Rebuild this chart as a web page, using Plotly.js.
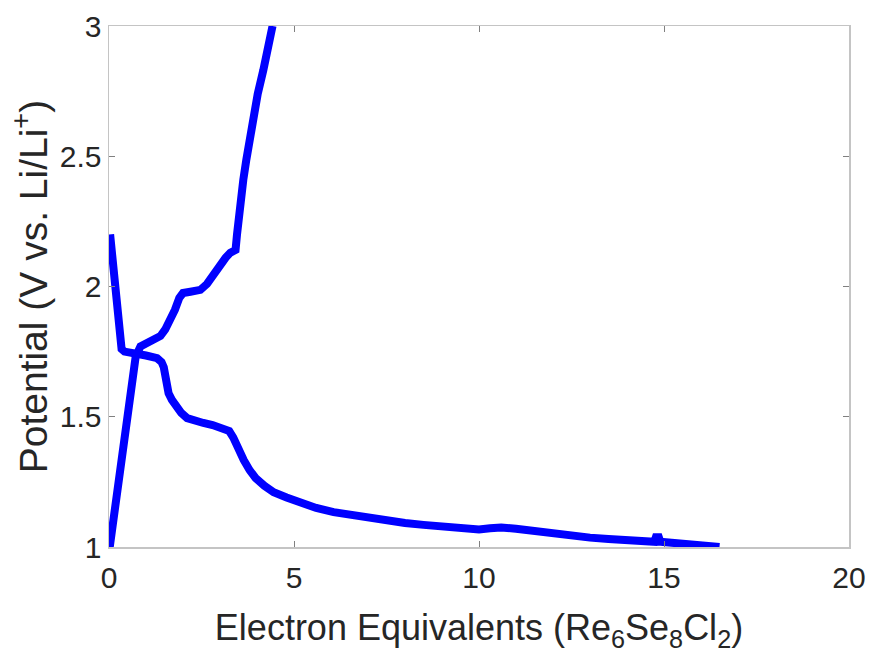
<!DOCTYPE html>
<html>
<head>
<meta charset="utf-8">
<script src="https://cdn.plot.ly/plotly-3.0.1.min.js"></script>
<style>html,body{margin:0;padding:0;background:#fff;}#chart{width:873px;height:666px;}</style>
</head>
<body>
<div id="chart"></div>
<script>
// Discharge (lithiation) curve
const dischargeX = [0.03,0.09,0.18,0.27,0.34,0.42,0.7,1.0,1.3,1.42,1.48,1.53,1.61,1.7,1.8,1.95,2.11,2.3,2.55,2.8,3.1,3.25,3.36,3.45,3.55,3.64,3.8,3.96,4.2,4.45,4.8,5.17,5.6,6.07,6.5,6.97,7.5,8.0,8.5,9.0,9.5,10.0,10.3,10.6,11.0,11.5,12.0,12.5,13.0,13.5,14.0,14.5,14.74,14.78,14.86,14.9,15.2,15.7,16.1,16.5];
const dischargeY = [2.20,2.10,2.00,1.87,1.76,1.75,1.745,1.735,1.725,1.71,1.69,1.64,1.59,1.565,1.54,1.515,1.495,1.485,1.476,1.468,1.457,1.445,1.42,1.39,1.36,1.334,1.295,1.265,1.235,1.21,1.19,1.169,1.15,1.134,1.123,1.113,1.10,1.092,1.085,1.077,1.07,1.067,1.072,1.075,1.07,1.06,1.05,1.042,1.036,1.031,1.027,1.023,1.02,1.037,1.037,1.02,1.017,1.012,1.007,1.0];
// Charge (delithiation) curve
const chargeX = [0.02,0.15,0.29,0.45,0.6,0.72,0.85,1.1,1.39,1.52,1.66,1.78,1.9,2.0,2.2,2.47,2.65,2.8,3.01,3.15,3.28,3.42,3.46,3.5,3.55,3.63,3.71,3.87,4.02,4.17,4.3,4.42];
const chargeY = [1.00,1.14,1.296,1.45,1.61,1.73,1.77,1.79,1.81,1.835,1.87,1.91,1.956,1.975,1.98,1.987,2.01,2.04,2.09,2.11,2.13,2.14,2.2,2.26,2.32,2.41,2.485,2.64,2.74,2.83,2.915,3.0];

const xTicks = [0,5,10,15,20];
const yTicks = [1,1.5,2,2.5,3];

const lineStyle = {color:'#0000ff', width:8};
const traces = [
  {x:dischargeX, y:dischargeY, mode:'lines', line:lineStyle, hoverinfo:'skip'},
  {x:chargeX, y:chargeY, mode:'lines', line:lineStyle, hoverinfo:'skip'}
];

const axisCommon = {
  showline:true, linecolor:'#c4c4c4', linewidth:1.5, mirror:'ticks',
  ticks:'inside', ticklen:6, tickwidth:1, tickcolor:'#808080',
  showgrid:false, zeroline:false,
  tickfont:{family:'Liberation Sans, Arial, sans-serif', size:30, color:'#262626'}
};

const layout = {
  width:873, height:666,
  margin:{l:108.5, r:24, t:26, b:119, autoexpand:false},
  paper_bgcolor:'#fff', plot_bgcolor:'#fff',
  showlegend:false,
  xaxis:Object.assign({}, axisCommon, {
    range:[0,20], tickvals:xTicks, ticktext:xTicks.map(String), ticklabelstandoff:3,
    title:{text:'Electron Equivalents (Re<sub>6</sub>Se<sub>8</sub>Cl<sub>2</sub>)', standoff:22,
      font:{family:'Liberation Sans, Arial, sans-serif', size:36, color:'#262626'}}
  }),
  yaxis:Object.assign({}, axisCommon, {
    range:[1,3], tickvals:yTicks, ticktext:yTicks.map(String),
    title:{text:'Potential (V vs. Li/Li<sup>+</sup>)', standoff:0,
      font:{family:'Liberation Sans, Arial, sans-serif', size:39, color:'#262626'}}
  })
};

Plotly.newPlot('chart', traces, layout, {staticPlot:true, displayModeBar:false});
</script>
</body>
</html>
